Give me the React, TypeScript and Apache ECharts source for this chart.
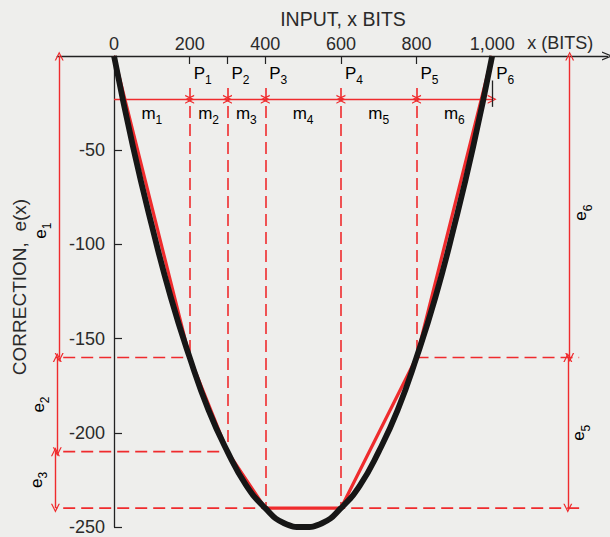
import React, { useEffect, useRef } from "react";
import * as echarts from "echarts";

// ---------- data ----------
const xTickLabels = [0, 200, 400, 600, 800, 1000];
const yTickValues = [-250, -200, -150, -100, -50];

// breakpoints P1..P6 of the piecewise approximation
const breakX = [200, 300, 400, 600, 800, 1000];
const breakNames = ["1", "2", "3", "4", "5", "6"];

// exact correction curve e(x) (black)
const curveX = [0, 50, 100, 150, 200, 250, 300, 350, 400, 450, 500, 550, 600, 650, 700, 750, 800, 850, 900, 950, 1000];
const curveY = [0, -48, -90, -128, -160, -188, -210, -228, -240, -248, -250, -248, -240, -228, -210, -188, -160, -128, -90, -48, 0];

// piecewise-linear approximation (red)
const approxX = [0, 200, 300, 400, 600, 800, 1000];
const approxY = [0, -160, -210, -240, -240, -160, 0];

// segment slopes m1..m6 (dimension arrows between breakpoints)
const segmentNames = ["1", "2", "3", "4", "5", "6"];
const mArrowLevel = -23;
const dropTop = -17;

// error dimension arrows e1..e6
const leftDims = [
  { name: "1", x: -145, from: 0, to: -160, labelShift: 24 },
  { name: "2", x: -150, from: -160, to: -210, labelShift: 0 },
  { name: "3", x: -155, from: -210, to: -240, labelShift: 0 },
];
const rightDims = [
  { name: "6", x: 1205, from: 0, to: -160, labelShift: 6 },
  { name: "5", x: 1200, from: -160, to: -240, labelShift: 0 },
];
// horizontal dashed reference levels
const levelLines = [
  { y: -160, x1: -182, x2: 200 },
  { y: -210, x1: -182, x2: 300 },
  { y: -240, x1: -182, x2: 1230 },
  { y: -160, x1: 800, x2: 1230 },
];

const RED = "#ef2b2d";
const INK = "#222222";
const TXT = "#2a2a2a";
const FONT = "'Liberation Sans', Arial, sans-serif";
const CHEVRON = "path://M5,0 L10,12 L8.5,12 L5,3.4 L1.5,12 L0,12 Z";

export default function App() {
  const ref = useRef<HTMLDivElement>(null);

  useEffect(() => {
    document.body.style.margin = "0";
    const el = ref.current!;
    const chart = echarts.init(el, undefined, { renderer: "svg" });

    const dropLines = breakX.slice(0, 5).map((x) => {
      const i = approxX.indexOf(x);
      return { coords: [[x, dropTop], [x, approxY[i]]] };
    });
    const segEnds = [0, ...breakX];
    const mSegs = segEnds.slice(1).map((b, i) => ({ coords: [[segEnds[i], mArrowLevel], [b, mArrowLevel]] }));
    const dims = [...leftDims, ...rightDims].map((d) => ({ coords: [[d.x, d.from], [d.x, d.to]] }));

    const levelSeries = levelLines.map((l) => ({
      type: "line",
      data: [
        [l.x1, l.y],
        [l.x2, l.y],
      ],
      symbol: "none",
      clip: false,
      lineStyle: { color: RED, width: 1.6, type: [12, 6] },
      z: 2,
    }));

    const xMin = -150;
    const xMax = 1305;
    const gridLeft = 57.3;
    const pxPerUnit = 0.378;

    const option: any = {
      animation: false,
      backgroundColor: "#eeeeec",
      grid: { left: gridLeft, right: 2.5, top: 56, bottom: 10, containLabel: false },
      xAxis: {
        type: "value",
        min: xMin,
        max: xMax,
        position: "top",
        axisLine: {
          show: true,
          onZero: true,
          lineStyle: { color: INK, width: 1.3 },
          symbol: ["none", CHEVRON],
          symbolSize: [10, 11],
        },
        axisTick: { show: true, inside: true, length: 8, customValues: breakX, lineStyle: { color: INK, width: 1.2 } },
        axisLabel: {
          customValues: xTickLabels,
          formatter: (v: number) => (v === 1000 ? "1,000" : String(v)),
          fontSize: 18,
          fontFamily: FONT,
          color: TXT,
          margin: 3,
        },
        splitLine: { show: false },
      },
      yAxis: {
        type: "value",
        min: -250,
        max: 0,
        position: "left",
        offset: -(0 - xMin) * pxPerUnit,
        axisLine: { show: true, onZero: false, lineStyle: { color: INK, width: 1.3 } },
        axisTick: { show: true, inside: true, length: 8, customValues: yTickValues, lineStyle: { color: INK, width: 1.2 } },
        axisLabel: {
          customValues: yTickValues,
          fontSize: 18,
          fontFamily: FONT,
          color: TXT,
          margin: 9,
        },
        splitLine: { show: false },
      },
      series: [
        ...levelSeries,
        {
          type: "lines",
          coordinateSystem: "cartesian2d",
          clip: false,
          symbol: "none",
          lineStyle: { color: RED, width: 1.6, type: [12, 6], opacity: 1 },
          data: dropLines,
          z: 2,
        },
        {
          type: "lines",
          coordinateSystem: "cartesian2d",
          clip: false,
          symbol: ["none", CHEVRON],
          symbolSize: 9,
          lineStyle: { color: RED, width: 1.4, opacity: 1 },
          data: mSegs.slice(0, 1),
          z: 2,
        },
        {
          type: "lines",
          coordinateSystem: "cartesian2d",
          clip: false,
          symbol: [CHEVRON, CHEVRON],
          symbolSize: 9,
          lineStyle: { color: RED, width: 1.4, opacity: 1 },
          data: [...mSegs.slice(1), ...dims],
          z: 2,
        },
        {
          type: "lines",
          coordinateSystem: "cartesian2d",
          clip: false,
          symbol: "none",
          lineStyle: { color: INK, width: 1.3, opacity: 1 },
          data: [{ coords: [[1000, -13], [1000, -27]] }],
          z: 2,
        },
        {
          type: "line",
          data: approxX.map((x, i) => [x, approxY[i]]),
          symbol: "none",
          clip: false,
          lineStyle: { color: RED, width: 3.2 },
          z: 3,
        },
        {
          type: "line",
          data: curveX.map((x, i) => [x, curveY[i]]),
          symbol: "none",
          smooth: true,
          clip: false,
          lineStyle: { color: "#161616", width: 5.8 },
          z: 4,
        },
      ],
    };
    chart.setOption(option);

    const px = (x: number, y: number) => chart.convertToPixel({ gridIndex: 0 }, [x, y]) as number[];
    const rich = {
      a: { fontSize: 17, fontFamily: FONT, color: TXT, lineHeight: 26, verticalAlign: "middle" },
      s: { fontSize: 12, fontFamily: FONT, color: TXT, lineHeight: 14, verticalAlign: "bottom" },
    };
    const subText = (main: string, sub: string, x: number, y: number, align: string, rotation = 0) => ({
      type: "text",
      x,
      y,
      rotation,
      style: { text: `{a|${main}}{s|${sub}}`, rich, align, verticalAlign: "middle" },
      z: 10,
    });

    const graphics: any[] = [];
    graphics.push({
      type: "text",
      x: 343,
      y: 18.5,
      style: { text: "INPUT, x BITS", fontSize: 19.5, fontFamily: FONT, fill: TXT, align: "center", verticalAlign: "middle" },
    });
    const p1000 = px(1000, 0);
    graphics.push({
      type: "text",
      x: p1000[0] + 35,
      y: p1000[1] - 13,
      style: { text: "x (BITS)", fontSize: 18, fontFamily: FONT, fill: TXT, align: "left", verticalAlign: "middle" },
    });
    graphics.push({
      type: "text",
      x: 19,
      y: 287,
      rotation: Math.PI / 2,
      style: { text: "CORRECTION,  e(x)", fontSize: 19, fontFamily: FONT, fill: TXT, align: "center", verticalAlign: "middle" },
    });
    breakX.forEach((x, i) => {
      const p = px(x, 0);
      graphics.push(subText("P", breakNames[i], p[0] + 4, p[1] + 17, "left"));
    });
    segEnds.slice(1).forEach((b, i) => {
      const p = px((segEnds[i] + b) / 2, mArrowLevel);
      graphics.push(subText("m", segmentNames[i], p[0], p[1] + 14, "center"));
    });
    leftDims.forEach((d) => {
      const p = px(d.x, (d.from + d.to) / 2);
      graphics.push(subText("e", d.name, p[0] - 19, p[1] + d.labelShift, "center", Math.PI / 2));
    });
    rightDims.forEach((d) => {
      const p = px(d.x, (d.from + d.to) / 2);
      graphics.push(subText("e", d.name, p[0] + 11, p[1] + d.labelShift, "center", Math.PI / 2));
    });
    chart.setOption({ graphic: graphics });

    return () => chart.dispose();
  }, []);

  return <div ref={ref} style={{ width: 610, height: 537 }} />;
}
